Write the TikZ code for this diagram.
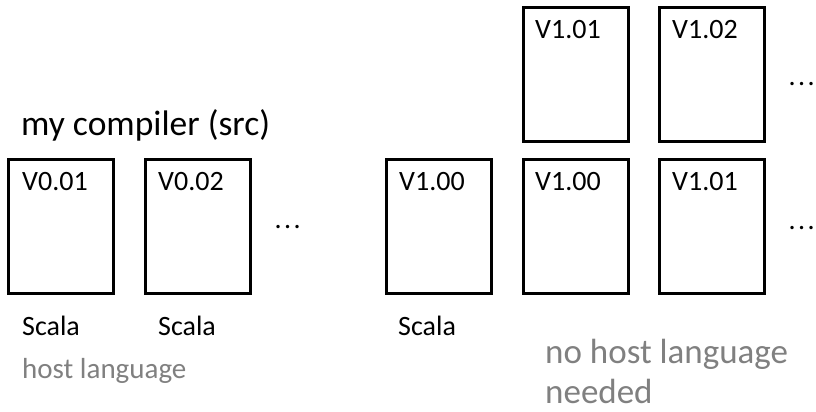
\documentclass[tikz,border=0pt]{standalone}
\usepackage{fontspec}
\setmainfont{Carlito}
\newcommand{\threedots}{.\hspace{2.4pt}.\hspace{2.4pt}.}
\begin{document}
\begin{tikzpicture}[x=1pt,y=-1pt,
  ver/.style={draw=black,line width=3pt,minimum width=105pt,minimum height=134pt,inner sep=0pt,outer sep=0pt},
  vlab/.style={anchor=base west,inner sep=0pt,font=\fontsize{28}{32}\selectfont},
  lang/.style={anchor=base west,inner sep=0pt,font=\fontsize{28}{32}\selectfont},
  dots/.style={anchor=base west,inner sep=0pt,font=\fontsize{28}{32}\selectfont},
  note/.style={anchor=base west,inner sep=0pt,text=black!50},
  title/.style={anchor=base west,inner sep=0pt,font=\fontsize{35.5}{40}\selectfont}]
\useasboundingbox (0,0) rectangle (816,412);
% boxes
\node[ver] (b1) at (61,226) {};
\node[ver] (b2) at (197.5,226) {};
\node[ver] (b3) at (439,226.5) {};
\node[ver] (b4) at (575.5,226.5) {};
\node[ver] (b5) at (712,226.5) {};
\node[ver] (b6) at (575.5,74.5) {};
\node[ver] (b7) at (712,74.5) {};
% version labels
\node[vlab] (l1) at (22,190) {V0.01};
\node[vlab] (l2) at (158,190) {V0.02};
\node[vlab] (l3) at (399,190) {V1.00};
\node[vlab] (l4) at (535,190) {V1.00};
\node[vlab] (l5) at (672,190) {V1.01};
\node[vlab] (l6) at (535,38) {V1.01};
\node[vlab] (l7) at (672,38) {V1.02};
% dots
\node[dots] (d1) at (274.5,228) {\threedots};
\node[dots] (d2) at (788.5,229) {\threedots};
\node[dots] (d3) at (788.5,85) {\threedots};
% title
\node[title] (t) at (21,135) {my compiler (src)};
% languages
\node[lang] (s1) at (22,335) {Scala};
\node[lang] (s2) at (158,335) {Scala};
\node[lang] (s3) at (398,335) {Scala};
\node[note,font=\fontsize{29}{32}\selectfont] (h1) at (22,378) {host language};
\node[note,font=\fontsize{35}{42}\selectfont] (h2) at (545,363) {no host language};
\node[note,font=\fontsize{35}{42}\selectfont] (h3) at (545,403) {needed};
\end{tikzpicture}
\end{document}
